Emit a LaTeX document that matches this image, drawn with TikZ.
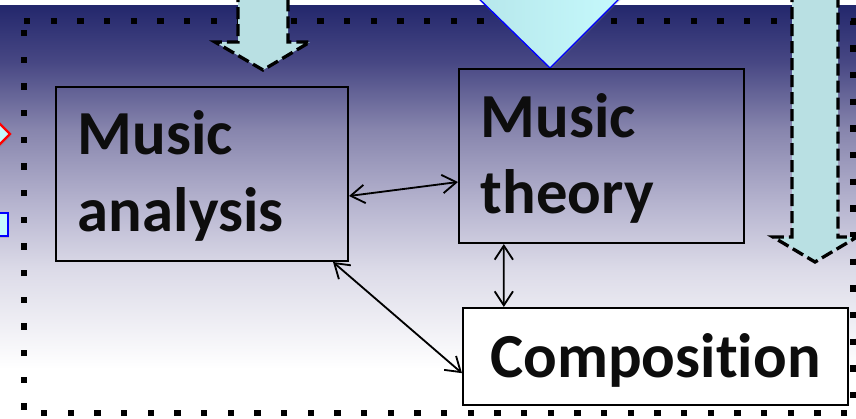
\documentclass[tikz,border=0pt]{standalone}
\usepackage{fontspec}
\newfontfamily\boxfont[Ligatures=NoCommon]{Carlito}
\usetikzlibrary{arrows.meta,shadows}
\definecolor{ink}{RGB}{13,13,13}
\definecolor{navy}{RGB}{35,39,108}
\definecolor{fadeA}{RGB}{72,72,132}
\definecolor{fadeB}{RGB}{135,133,173}
\definecolor{fadeC}{RGB}{182,180,207}
\definecolor{fadeD}{RGB}{220,219,232}
\definecolor{paleteal}{RGB}{185,224,227}
\definecolor{icecyanA}{RGB}{182,230,234}
\definecolor{icecyanB}{RGB}{198,250,253}
\newcommand{\clrarrow}{paleteal}
\newcommand{\clredge}{blue}
\pgfdeclareverticalshading{skyfade}{100bp}{color(0bp)=(white); color(31bp)=(white);
  color(43bp)=(fadeD); color(51bp)=(fadeC); color(60bp)=(fadeB); color(68bp)=(fadeA);
  color(75bp)=(navy); color(100bp)=(navy)}

\begin{document}
\begin{tikzpicture}[x=0.03cm, y=-0.03cm,
    box/.style={draw=black, line width=0.06cm, text=ink, inner xsep=0.66cm, text height=1.32cm,
      font=\boxfont\bfseries\fontsize{53.5pt}{65.5pt}\selectfont},
    twoline/.style={box, align=left, text depth=2.46cm, minimum height=5.22cm},
    link/.style={{Straight Barb[length=0.42cm,width=0.55cm]}-{Straight Barb[length=0.42cm,width=0.55cm]}, line width=0.055cm},
    downarrow/.style={fill=\clrarrow, draw=black, line width=0.1cm, dash pattern=on 0.36cm off 0.15cm}]
    \useasboundingbox (0,0) rectangle (856,419);
    \clip (0,0) rectangle (856,419);
    %background
        \fill[white] (0,0) rectangle (856,419);
        \shade[shading=skyfade] (0,5) rectangle (856,419);
    %dotted frame
        \draw[line width=0.19cm, dash pattern=on 0.19cm off 0.61cm] (24,21) -- (853,21) -- (853,413) -- (24,413) -- cycle;
    %bits coming in from the left
        \draw[red, line width=0.07cm, fill=icecyanB, drop shadow={opacity=0.3, shadow xshift=0.03cm, shadow yshift=-0.06cm}]
            (-12,112) -- (10,134) -- (-12,156) -- cycle;
        \draw[\clredge, line width=0.06cm, fill=icecyanB, drop shadow={opacity=0.3, shadow xshift=0.03cm, shadow yshift=-0.06cm}]
            (-20,213) rectangle (8,236);
    %arrows from above
        \draw[downarrow] (238,-10) -- (238,42) -- (215,42) -- (263,70) -- (310,42) -- (288,42) -- (288,-10);
        \draw[downarrow] (792,-10) -- (792,237) -- (773,237) -- (815,262) -- (857,237) -- (838,237) -- (838,-10);
        \shade[left color=icecyanA, right color=icecyanB, draw=\clredge, line width=0.04cm,
            drop shadow={opacity=0.25, shadow xshift=0.02cm, shadow yshift=-0.06cm}]
            (470,-10) -- (550,68) -- (628,-10) -- cycle;
    %boxes
        \node[twoline, text width=7.44cm] (ma) at (202,174) {Music\\analysis};
        \node[twoline, text width=7.23cm] (mt) at (601.5,156) {Music\\theory};
        \node[box, fill=white, text depth=0.09cm, minimum width=11.55cm, minimum height=2.91cm] (comp) at (655.5,356.5) {Composition};
    %links between boxes
        \draw[link] ([yshift=-0.66cm]ma.east) -- ([yshift=-0.78cm]mt.west);
        \draw[link] ([xshift=-2.93cm]mt.south) -- ([xshift=-4.55cm]comp.north);
        \draw[link] ([xshift=3.93cm]ma.south) -- ([yshift=-0.5cm]comp.west);
\end{tikzpicture}
\end{document}
